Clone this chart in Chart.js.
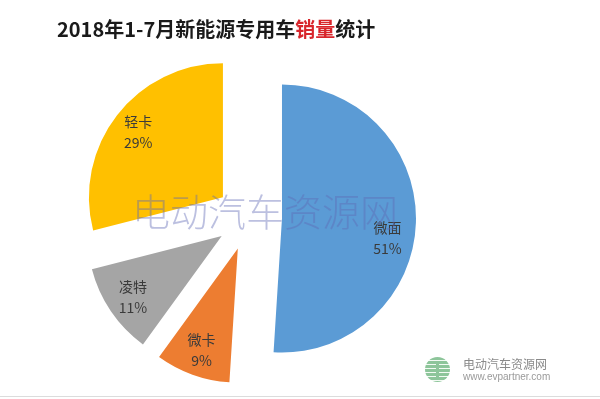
<!DOCTYPE html>
<html>
<head>
<meta charset="utf-8">
<script src="https://cdn.jsdelivr.net/npm/chart.js@4"></script>
<style>
body { margin: 0; background: #fff; }
#wrap { position: relative; width: 600px; height: 399px; overflow: hidden; background: #fff; }
#chartPlace { position: absolute; left: 0; top: 0; }
#title { position: absolute; left: 57px; top: 16px; font: bold 20px "Noto Sans CJK SC", sans-serif; line-height: 26px; color: #1a1a1a; white-space: nowrap; }
#title span { color: #d8262c; }
#mark { position: absolute; left: 132px; top: 190px; font: 300 38px "Noto Sans CJK SC", sans-serif; line-height: 40px; color: rgba(95, 105, 180, 0.42); white-space: nowrap; }
#logo { position: absolute; left: 425px; top: 357px; width: 25px; height: 25px; border-radius: 50%;
  background: repeating-linear-gradient(180deg, #8dc59a 0px, #8dc59a 3px, #f2faf3 3px, #f2faf3 4px); }
#logo:after { content: ""; position: absolute; left: 11px; top: 4px; width: 3px; height: 17px; background: #8dc59a; }
#logoText { position: absolute; left: 463px; top: 357px; font: 12px "Noto Sans CJK SC", sans-serif; line-height: 14px; color: #8a8a8a; white-space: nowrap; }
#logoUrl { position: absolute; left: 463px; top: 371px; font: 10px "Liberation Sans", sans-serif; line-height: 12px; color: #9a9a9a; white-space: nowrap; }
#rule { position: absolute; left: 0; top: 396px; width: 600px; height: 1px; background: #dcdcdc; }
</style>
</head>
<body>
<div id="wrap">
  <canvas id="chartPlace" width="600" height="399"></canvas>
  <div id="title">2018年1-7月新能源专用车<span>销量</span>统计</div>
  <div id="mark">电动汽车资源网</div>
  <div id="logo"></div>
  <div id="logoText">电动汽车资源网</div>
  <div id="logoUrl">www.evpartner.com</div>
  <div id="rule"></div>
</div>
<script>
// sales share by vehicle type, Jan-Jul 2018 (percent)
var typeLabels = ['微面', '微卡', '凌特', '轻卡'];
var typeShares = [51, 9, 11, 29];
var typeColors = ['#5b9bd5', '#ed7d31', '#a5a5a5', '#ffc000'];

// push every slice out along its middle angle (like excel "explosion")
const explodePlugin = {
	id: 'explode',
	afterDatasetUpdate(chart, args, opts) {
		args.meta.data.forEach(function (arc) {
			var mid = (arc.startAngle + arc.endAngle) / 2;
			arc.x += Math.cos(mid) * opts.distance;
			arc.y += Math.sin(mid) * opts.distance;
		});
	}
};

// category name + percent inside each slice
// big slices get their label turned a little further clockwise, as excel does
const sliceLabelPlugin = {
	id: 'sliceLabel',
	afterDatasetsDraw(chart, args, opts) {
		var ctx = chart.ctx;
		var meta = chart.getDatasetMeta(0);
		var values = chart.data.datasets[0].data;
		ctx.save();
		ctx.fillStyle = '#3a3a3a';
		ctx.font = '14px "Noto Sans CJK SC", sans-serif';
		ctx.textAlign = 'center';
		ctx.textBaseline = 'middle';
		meta.data.forEach(function (arc, i) {
			var mid = (arc.startAngle + arc.endAngle) / 2;
			if (arc.circumference > Math.PI) mid += opts.bigTurn;
			var px = arc.x + Math.cos(mid) * arc.outerRadius * opts.ratio;
			var py = arc.y + Math.sin(mid) * arc.outerRadius * opts.ratio;
			ctx.fillText(chart.data.labels[i], px, py - 10);
			ctx.fillText(values[i] + '%', px, py + 11);
		});
		ctx.restore();
	}
};

var chartPlace = document.getElementById('chartPlace').getContext('2d');
var chartShare = new Chart(chartPlace, {
	type: 'pie',
	data: {
		labels: typeLabels,
		datasets: [{
			data: typeShares,
			backgroundColor: typeColors,
			borderWidth: 0
		}]
	},
	options: {
		responsive: false,
		animation: false,
		radius: 134,
		layout: {
			padding: { left: 0, right: 102, top: 36, bottom: 0 }
		},
		plugins: {
			legend: { display: false },
			tooltip: { enabled: false },
			title: { display: false },
			explode: { distance: 33 },
			sliceLabel: { ratio: 0.8, bigTurn: 0.15 }
		}
	},
	plugins: [explodePlugin, sliceLabelPlugin]
});
</script>
</body>
</html>
